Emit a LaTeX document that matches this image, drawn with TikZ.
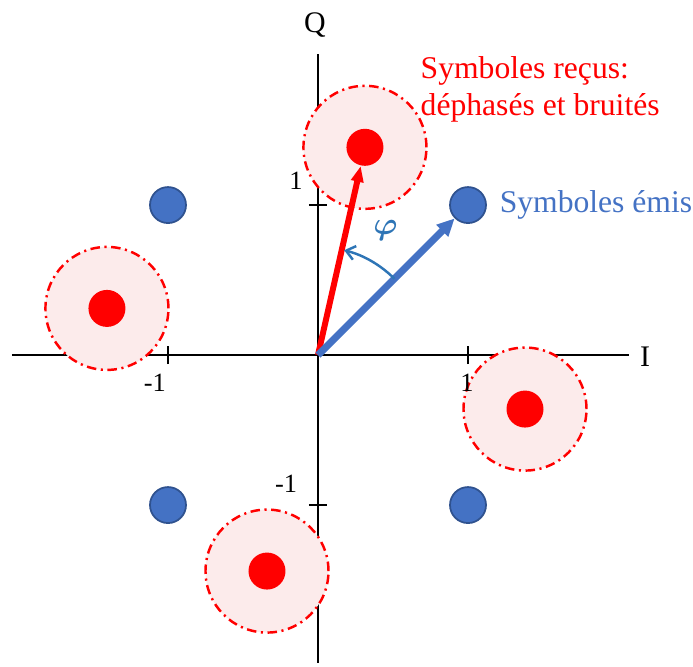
\documentclass[tikz,border=0pt]{standalone}
\usepackage{fontspec}
\setmainfont{Liberation Serif}
\usepackage{amsmath,bm}
\usetikzlibrary{arrows.meta,positioning}
\definecolor{emisblue}{RGB}{68,114,196}
\definecolor{emisdark}{RGB}{47,82,143}
\definecolor{recured}{RGB}{255,0,0}
\definecolor{zonepink}{RGB}{252,235,235}
\definecolor{phiblue}{RGB}{46,117,182}

\begin{document}
\begin{tikzpicture}[x=1.5cm, y=1.5cm,
        axis/.style={line width=0.5pt, black},
        bluedot/.style={circle, fill=emisblue, draw=emisdark, line width=0.5pt, minimum size=0.36cm, inner sep=0},
        reddot/.style={circle, fill=recured, minimum size=0.37cm, inner sep=0},
        noisezone/.style={circle, fill=zonepink, draw=recured, line width=0.7pt, minimum size=1.23cm, inner sep=0,
            dash pattern=on 2.7pt off 1.3pt on 0.6pt off 1.3pt},
        ticklbl/.style={font=\fontsize{7.5}{8}\selectfont, inner sep=0},
        arrowred/.style={-{Triangle[length=4.5pt, width=3.4pt]}, line width=1.7pt, recured},
        arrowblue/.style={-{Triangle[length=5pt, width=4.5pt]}, line width=2pt, emisblue},
        phiarrow/.style={-{Straight Barb[length=2.5pt, width=4pt]}, line width=0.7pt, phiblue}
    ]
        \useasboundingbox (-2.12,-2.073) rectangle (2.5,2.367);

        % axes
        \coordinate (O) at (0,0);
        \draw[axis] (-2.04,0) -- (2.07,0);
        \draw[axis] (0,-2.05) -- (0,2.01);
        \foreach \t in {-1,1} {
            \draw[axis] (\t,-0.06) -- (\t,0.06);
            \draw[axis] (-0.06,\t) -- (0.06,\t);
        }

        % zones de bruit
        \node[noisezone] (z1) at (0.313,1.385) {};
        \node[noisezone] (z2) at (-1.407,0.311) {};
        \node[noisezone] (z3) at (1.38,-0.36) {};
        \node[noisezone] (z4) at (-0.34,-1.44) {};

        % axis labels
        \node[font=\fontsize{8.5}{9}\selectfont] (qlbl) at (-0.02,2.2) {Q};
        \node[font=\fontsize{8.5}{9}\selectfont] (ilbl) at (2.18,-0.013) {I};
        \node[ticklbl] (xp) at (0.993,-0.187) {1};
        \node[ticklbl] (xm) at (-1.087,-0.187) {-1};
        \node[ticklbl] (yp) at (-0.147,1.16) {1};
        \node[ticklbl] (ym) at (-0.213,-0.86) {-1};

        % symboles
        \node[bluedot] (e1) at (1,1) {};
        \node[bluedot] (e2) at (-1,1) {};
        \node[bluedot] (e3) at (-1,-1) {};
        \node[bluedot] (e4) at (1,-1) {};
        \node[reddot] (r1) at (0.313,1.385) {};
        \node[reddot] (r2) at (-1.407,0.311) {};
        \node[reddot] (r3) at (1.38,-0.36) {};
        \node[reddot] (r4) at (-0.34,-1.44) {};

        \draw[arrowred] (O) -- (r1);
        \draw[arrowblue] (O) -- (e1);
        \draw[phiarrow] (45:0.72) arc[start angle=45, end angle=76, radius=0.72];
        \node[phiblue, font=\fontsize{9}{9}\selectfont] (phi) at (0.45,0.83) {$\bm{\varphi}$};

        % legendes
        \node[recured, anchor=west, align=left, inner sep=0, font=\fontsize{9}{10.5}\selectfont] (recu) at (0.68,1.773)
            {Symboles reçus:\\déphasés et bruités};
        \node[emisblue, anchor=base west, inner sep=0, font=\fontsize{9}{10.5}\selectfont] (emis) at (1.207,0.953)
            {Symboles émis};
    \end{tikzpicture}
\end{document}
